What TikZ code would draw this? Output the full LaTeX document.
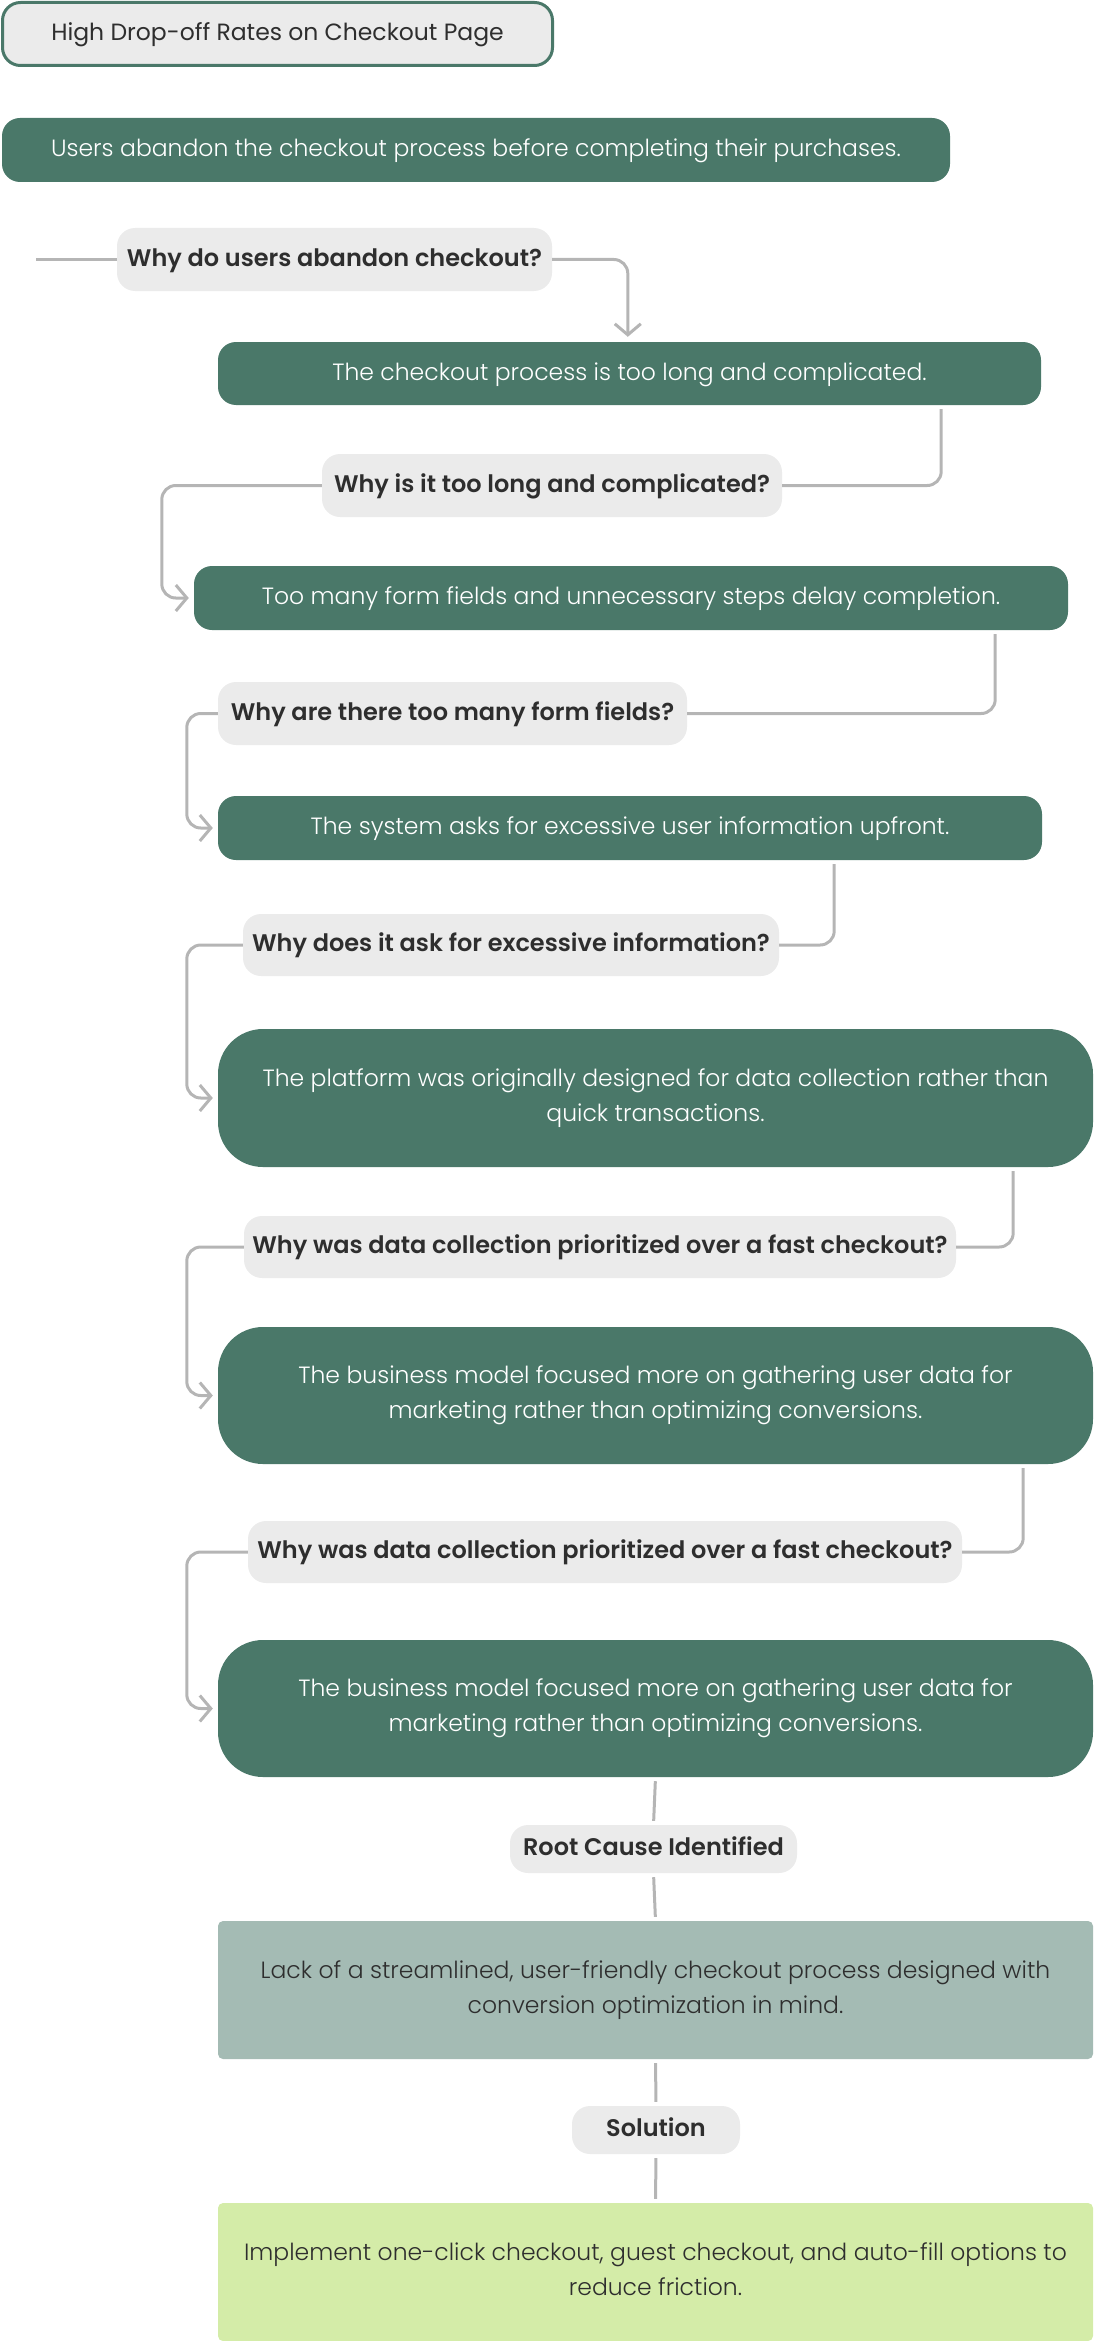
\documentclass[tikz,border=0pt]{standalone}
\usepackage{fontspec}
\setmainfont{Poppins}
\newfontfamily\lightfont{Poppins Light}
\newfontfamily\semifont{Poppins SemiBold}
\usetikzlibrary{arrows.meta}
\definecolor{dgreen}{HTML}{4A7869}
\definecolor{qgray}{HTML}{EBEBEB}
\definecolor{qtext}{HTML}{2E2E2E}
\definecolor{lgray}{HTML}{B5B5B5}
\definecolor{rootfill}{HTML}{A4BBB4}
\definecolor{solfill}{HTML}{D4ECA8}
\newcommand{\lnstrut}{\rule[-6.4pt]{0pt}{26pt}}
\begin{document}
\begin{tikzpicture}[x=1pt,y=-1pt,
  base/.style={rounded corners=18pt, align=center, inner sep=0pt,
    font=\lightfont\fontsize{23.5}{35}\selectfont,
    execute at begin node={\lnstrut}, execute at end node={\lnstrut}},
  gbox/.style={base, fill=dgreen, text=white},
  qbox/.style={base, fill=qgray, text=qtext, font=\semifont\fontsize{24}{35}\selectfont},
  conn/.style={draw=lgray, line width=3pt, rounded corners=14pt},
  arr/.style={conn, -{Straight Barb[length=11pt,width=26pt,line width=3pt]}, shorten >=5pt},
  plain/.style={draw=lgray, line width=3pt, shorten >=4pt, shorten <=4pt}
]
\useasboundingbox (0,0) rectangle (1093,2341);

\node[base, fill=qgray, draw=dgreen, line width=3pt, text=qtext, font=\fontsize{23.5}{35}\selectfont, minimum width=550pt, minimum height=63pt] (title) at (277.5,34) {High Drop-off Rates on Checkout Page};

\node[gbox, minimum width=948pt, minimum height=64pt] (b2) at (476,150) {Users abandon the checkout process before completing their purchases.};

\node[qbox, minimum width=435pt, minimum height=63pt] (q1) at (334.5,259.5) {Why do users abandon checkout?};
\node[gbox, minimum width=823pt, minimum height=63pt] (b3) at (629.5,373.5) {The checkout process is too long and complicated.};

\node[qbox, minimum width=460pt, minimum height=63pt] (q2) at (552,485.5) {Why is it too long and complicated?};
\node[gbox, minimum width=874pt, minimum height=64pt] (b4) at (631,598) {Too many form fields and unnecessary steps delay completion.};

\node[qbox, minimum width=469pt, minimum height=63pt] (q3) at (452.5,713.5) {Why are there too many form fields?};
\node[gbox, minimum width=824pt, minimum height=64pt] (b5) at (630,828) {The system asks for excessive user information upfront.};

\node[qbox, minimum width=536pt, minimum height=62pt] (q4) at (511,945) {Why does it ask for excessive information?};
\node[gbox, rounded corners=45pt, minimum width=875pt, minimum height=138pt] (b6) at (655.5,1098) {The platform was originally designed for data collection rather than\\quick transactions.};

\node[qbox, minimum width=712pt, minimum height=62pt] (q5) at (600,1247) {Why was data collection prioritized over a fast checkout?};
\node[gbox, rounded corners=45pt, minimum width=875pt, minimum height=137pt] (b7) at (655.5,1395.5) {The business model focused more on gathering user data for\\marketing rather than optimizing conversions.};

\node[qbox, minimum width=714pt, minimum height=62pt] (q6) at (605,1552) {Why was data collection prioritized over a fast checkout?};
\node[gbox, rounded corners=45pt, minimum width=875pt, minimum height=137pt] (b8) at (655.5,1708.5) {The business model focused more on gathering user data for\\marketing rather than optimizing conversions.};

\node[qbox, minimum width=287pt, minimum height=48pt] (rc) at (653.5,1849) {Root Cause Identified};
\node[base, rounded corners=5pt, fill=rootfill, text=qtext, minimum width=875pt, minimum height=138pt] (b9) at (655.5,1990) {Lack of a streamlined, user-friendly checkout process designed with\\conversion optimization in mind.};

\node[qbox, minimum width=168pt, minimum height=48pt] (sol) at (656,2130) {Solution};
\node[base, rounded corners=5pt, fill=solfill, text=qtext, minimum width=875pt, minimum height=138pt] (b10) at (655.5,2272) {Implement one-click checkout, guest checkout, and auto-fill options to\\reduce friction.};

% connectors
\coordinate (stub) at (36,259.5);
\draw[conn] (stub) -- (q1.west);
\draw[arr] (q1.east) -| ([xshift=410pt]b3.north west);

\draw[conn] ([xshift=-100pt,yshift=-4pt]b3.south east) |- (q2.east);
\draw[arr] (q2.west) -- ++(-160,0) |- (b4.west);

\draw[conn] ([xshift=-73pt,yshift=-4pt]b4.south east) |- (q3.east);
\draw[arr] (q3.west) -- ++(-31,0) |- (b5.west);

\draw[conn] ([xshift=-208pt,yshift=-4pt]b5.south east) |- (q4.east);
\draw[arr] (q4.west) -- ++(-56,0) |- (b6.west);

\draw[conn] ([xshift=-80pt,yshift=-4pt]b6.south east) |- (q5.east);
\draw[arr] (q5.west) -- ++(-57,0) |- (b7.west);

\draw[conn] ([xshift=-70pt,yshift=-4pt]b7.south east) |- (q6.east);
\draw[arr] (q6.west) -- ++(-61,0) |- (b8.west);

\draw[plain] (b8.south) -- (rc.north);
\draw[plain] (rc.south) -- (b9.north);
\draw[plain] (b9.south) -- (sol.north);
\draw[plain] (sol.south) -- (b10.north);
\end{tikzpicture}
\end{document}
